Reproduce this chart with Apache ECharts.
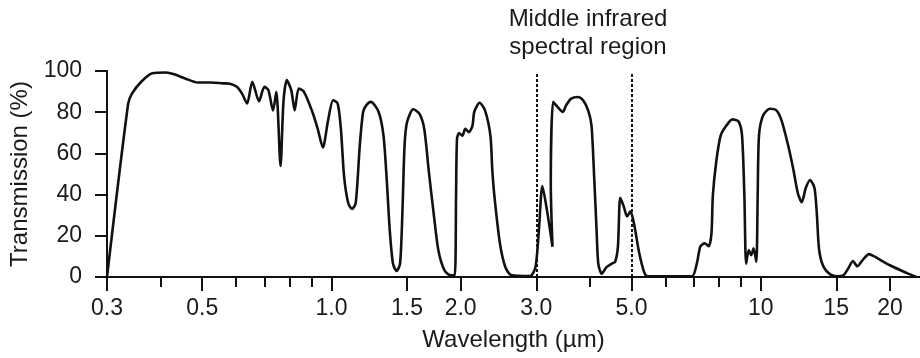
<!DOCTYPE html>
<html>
<head>
<meta charset="utf-8">
<script src="https://cdn.jsdelivr.net/npm/echarts@6/dist/echarts.min.js"></script>
<style>
  html, body { margin: 0; padding: 0; background: #fff; }
  #chart { width: 920px; height: 358px; }
</style>
</head>
<body>
<div id="chart"></div>
<script>
// wavelength in micrometres, transmission in %
var wavelength = [
  0.300, 0.336, 0.343, 0.3605, 0.3825, 0.412, 0.430, 0.456, 0.488, 0.524, 0.559, 0.580,
  0.602, 0.619, 0.636, 0.654, 0.678, 0.698, 0.713, 0.731, 0.744, 0.761, 0.773, 0.787,
  0.806, 0.821, 0.839, 0.863, 0.903, 0.929, 0.955, 0.982, 1.009, 1.034, 1.052, 1.070,
  1.094, 1.116, 1.139, 1.164, 1.185, 1.205, 1.235, 1.288, 1.322, 1.345, 1.367, 1.391,
  1.419, 1.445, 1.463, 1.480, 1.500, 1.551, 1.604, 1.645, 1.687, 1.730, 1.774, 1.833,
  1.896, 1.937, 1.951, 1.961, 1.983, 2.018, 2.050, 2.089, 2.131, 2.151, 2.214, 2.279,
  2.346, 2.370, 2.400, 2.470, 2.540, 2.620, 2.903, 2.988, 3.043, 3.100, 3.185, 3.273,
  3.243, 3.284, 3.365, 3.457, 3.520, 3.618, 3.753, 3.856, 3.963, 4.035, 4.095, 4.146,
  4.184, 4.261, 4.378, 4.500, 4.581, 4.649, 4.707, 4.796, 4.883, 4.972, 5.066, 5.207,
  5.351, 5.449, 6.906, 7.098, 7.230, 7.401, 7.566, 7.679, 7.734, 7.874, 8.066, 8.318,
  8.595, 8.882, 9.047, 9.162, 9.247, 9.380, 9.504, 9.625, 9.768, 9.838, 9.908, 10.125,
  10.50, 10.88, 11.18, 11.59, 11.91, 12.20, 12.46, 12.74, 13.03, 13.34, 13.51, 13.68,
  14.01, 14.52, 15.06, 15.58, 15.99, 16.40, 16.78, 17.27, 17.88, 18.35, 20.0, 21.86, 23.05
];
var transmission = [
  0, 84.1, 89, 94.8, 98.9, 99.3, 98.4, 96.4, 94.4, 94.4, 94, 93.8,
  92.3, 89, 84.2, 94.8, 85.3, 92.3, 90.7, 80.9, 89.9, 53.9, 85, 95.6,
  90.7, 80.9, 91.5, 89.9, 80.1, 71.9, 62.9, 76, 85.8, 84.2, 71.9, 49,
  35.9, 33, 35.9, 63.7, 80.1, 83.3, 85, 80.1, 68.6, 47.4, 22.9, 6.5,
  2.9, 6.5, 31, 63.7, 75.2, 81.4, 79.2, 71.9, 50.7, 31, 13.1, 3.3,
  0.8, 0.8, 39.2, 67, 69.9, 68.6, 71.9, 70.3, 73.5, 80.1, 84.6, 80.9,
  68.6, 51.8, 38, 16, 5, 1, 0.5, 4.9, 22.9, 44.1, 31, 14.7,
  45, 85, 82.5, 80.1, 83.3, 86.6, 87.4, 85.8, 80.9, 73.5, 47.4, 22.9,
  6.5, 1.6, 4.9, 6.5, 7.4, 14.7, 38.4, 34.3, 29.4, 31.9, 26.1, 12,
  2.4, 0.3, 0.3, 6.5, 14.7, 16.3, 15, 21.2, 39.2, 55.6, 68.6, 73.5,
  76.5, 75.5, 68.6, 39.2, 6.5, 13.1, 10.6, 13.9, 7.4, 39.2, 68.6, 78.4,
  81.7, 80.9, 76, 63.7, 52.3, 40.8, 36.3, 43.3, 47.1, 43.3, 31, 13.1,
  4.9, 1.3, 0.3, 0.8, 4.1, 7.8, 5.2, 8.2, 11.1, 10.1, 5.7, 2, 0
];

var labelTicks = [0.3, 0.5, 1, 1.5, 2, 3, 5, 10, 15, 20];
var labelTexts = ['0.3', '0.5', '1.0', '1.5', '2.0', '3.0', '5.0', '10', '15', '20'];
var minorTicks = [0.4, 0.6, 0.7, 0.8, 0.9, 4, 6, 7, 8, 9];
var regionBounds = [3, 5];

var ink = '#111';
var textColor = '#1a1a1a';
var fontFamily = '"Liberation Sans", Arial, sans-serif';

var seriesData = [];
for (var i = 0; i < wavelength.length; i++) {
    seriesData.push([wavelength[i], transmission[i]]);
}

var chart = echarts.init(document.getElementById('chart'));

var option = {
    animation: false,
    grid: { left: 107, right: 0, top: 71, bottom: 81, containLabel: false },
    xAxis: [{
        type: 'log',
        logBase: 10,
        min: 0.3,
        max: 23.5,
        position: 'bottom',
        name: 'Wavelength (\u00b5m)',
        nameLocation: 'middle',
        nameGap: 51,
        nameTextStyle: { fontSize: 24, color: textColor, fontFamily: fontFamily },
        axisLine: { lineStyle: { color: ink, width: 2 } },
        axisTick: { customValues: labelTicks, length: 14, lineStyle: { color: ink, width: 2 } },
        axisLabel: {
            customValues: labelTicks,
            fontSize: 23,
            color: textColor,
            fontFamily: fontFamily,
            margin: 20,
            formatter: function (v) {
                for (var k = 0; k < labelTicks.length; k++) {
                    if (Math.abs(labelTicks[k] - v) < 1e-6 * labelTicks[k] + 1e-9) return labelTexts[k];
                }
                return '';
            }
        },
        splitLine: { show: false },
        minorTick: { show: false }
    }, {
        type: 'log',
        logBase: 10,
        min: 0.3,
        max: 23.5,
        position: 'bottom',
        axisLine: { show: false },
        axisTick: { customValues: minorTicks, length: 10, lineStyle: { color: ink, width: 2 } },
        axisLabel: { show: false },
        splitLine: { show: false }
    }],
    yAxis: {
        type: 'value',
        min: 0,
        max: 100,
        interval: 20,
        name: 'Transmission (%)',
        nameLocation: 'middle',
        nameGap: 68,
        nameTextStyle: { fontSize: 24, color: textColor, fontFamily: fontFamily },
        axisLine: { show: true, lineStyle: { color: ink, width: 2 } },
        axisTick: { show: true, length: 12, lineStyle: { color: ink, width: 2 } },
        axisLabel: { fontSize: 23, color: textColor, fontFamily: fontFamily, margin: 25 },
        splitLine: { show: false }
    },
    graphic: [{
        type: 'text',
        x: 588,
        y: 7,
        style: {
            text: 'Middle infrared',
            textAlign: 'center',
            textVerticalAlign: 'top',
            fontSize: 24,
            fontFamily: fontFamily,
            fill: textColor
        }
    }, {
        type: 'text',
        x: 588,
        y: 35,
        style: {
            text: 'spectral region',
            textAlign: 'center',
            textVerticalAlign: 'top',
            fontSize: 24,
            fontFamily: fontFamily,
            fill: textColor
        }
    }],
    series: [{
        type: 'line',
        xAxisIndex: 0,
        data: seriesData,
        showSymbol: false,
        smooth: 0.25,
        lineStyle: { color: ink, width: 2.6 },
        markLine: {
            silent: true,
            symbol: 'none',
            label: { show: false },
            lineStyle: { color: ink, width: 2, type: [3, 2] },
            data: regionBounds.map(function (b) {
                return [{ coord: [b, 0] }, { coord: [b, 99] }];
            })
        }
    }]
};

chart.setOption(option);
</script>
</body>
</html>
